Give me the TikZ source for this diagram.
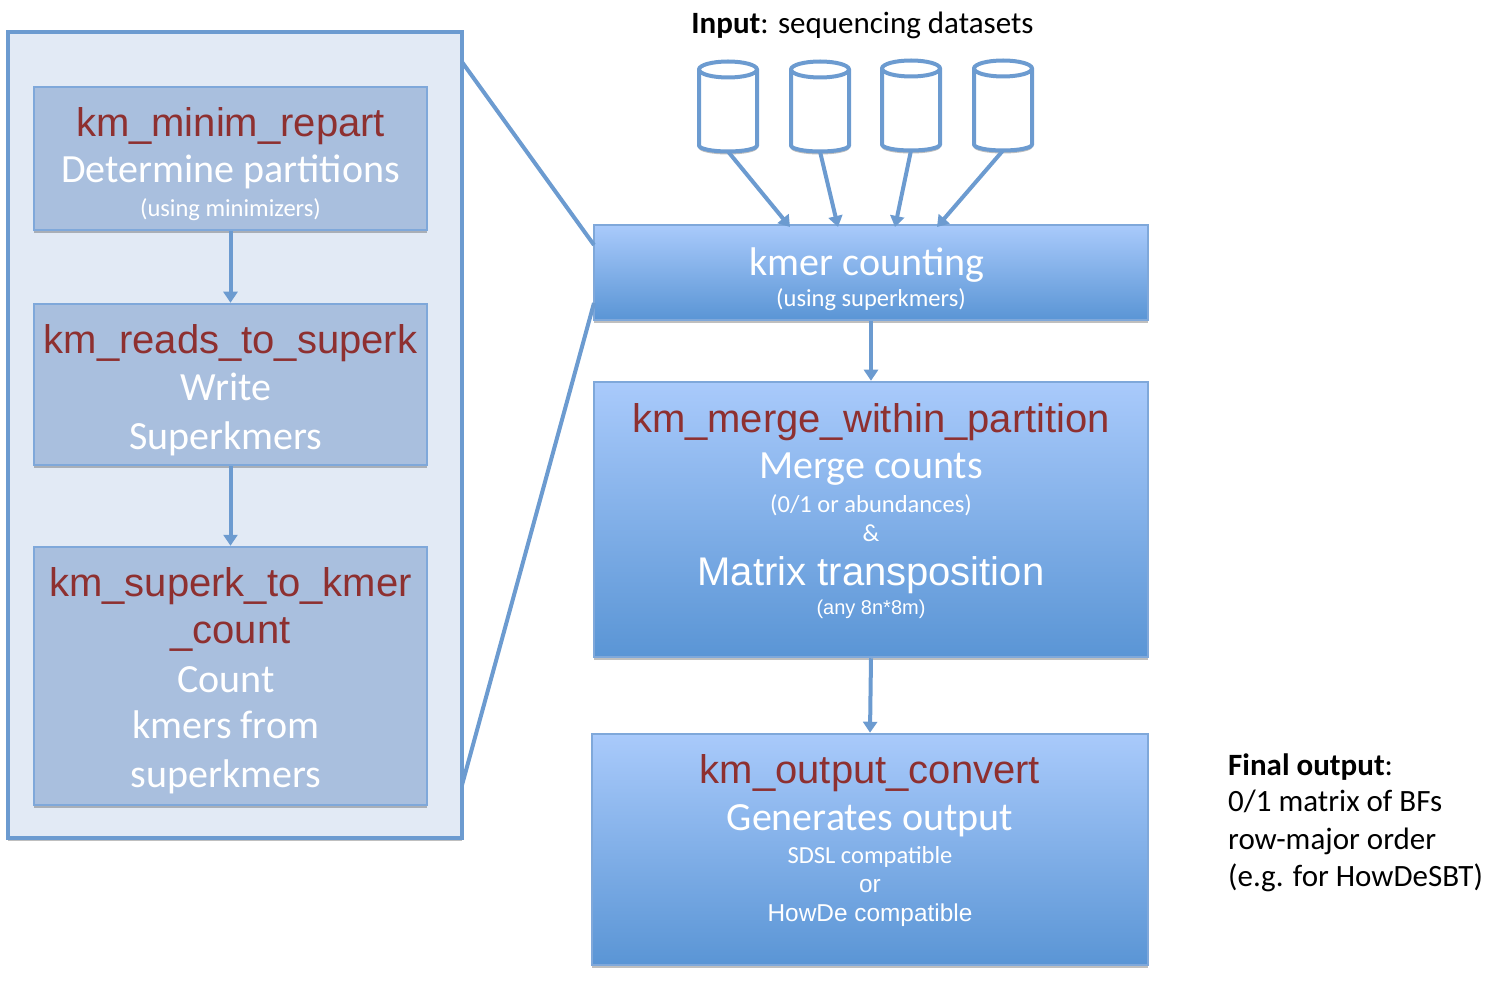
\documentclass[tikz,border=0pt]{standalone}
\usepackage{fontspec}
\setmainfont{Carlito}
\newfontfamily\arialfont{Liberation Sans}
\usetikzlibrary{arrows.meta,shadows}
\definecolor{linkblue}{HTML}{6C9BD0}
\definecolor{edgeblue}{HTML}{7FA8DA}
\definecolor{paneblue}{HTML}{E2EAF5}
\definecolor{flatblue}{HTML}{A9BFDE}
\definecolor{topblue}{HTML}{A9CAFB}
\definecolor{lowblue}{HTML}{5A95D5}
\definecolor{namered}{HTML}{8E3030}
\tikzset{
    softshadow/.style={drop shadow={shadow xshift=0pt,shadow yshift=-3pt,opacity=0.25,fill=black}},
    flatbox/.style={draw=edgeblue,line width=2.5pt,fill=flatblue,softshadow,inner sep=0pt},
    gradbox/.style={draw=edgeblue,line width=2.5pt,top color=topblue,bottom color=lowblue,softshadow,inner sep=0pt},
    link/.style={draw=linkblue,line width=4pt,-{Triangle[length=11pt,width=14pt]}},
    zoomline/.style={draw=linkblue,line width=4pt},
    dbase/.pic={
        \draw[draw=linkblue,line width=4pt,fill=white,softshadow] (-29,-37) -- (-29,39)
            arc[start angle=180,end angle=360,x radius=29pt,y radius=6pt] -- (29,-37)
            arc[start angle=0,end angle=180,x radius=29pt,y radius=8pt] -- cycle;
        \draw[draw=linkblue,line width=4pt] (-29,-37)
            arc[start angle=180,end angle=360,x radius=29pt,y radius=8pt];
        \coordinate (-base) at (0,45);
    },
    cname/.style={anchor=base,inner sep=0pt,text=namered,font=\arialfont\fontsize{40}{40}\selectfont},
    cmain/.style={anchor=base,inner sep=0pt,text=white,font=\fontsize{40}{40}\selectfont},
    csub/.style={anchor=base,inner sep=0pt,text=white,font=\fontsize{24.5}{25}\selectfont},
    carial/.style={anchor=base,inner sep=0pt,text=white,font=\arialfont\fontsize{24.4}{25}\selectfont},
    plain/.style={anchor=base,inner sep=0pt,text=black,font=\fontsize{31}{31}\selectfont}
}
\begin{document}
\begin{tikzpicture}[x=1pt,y=-1pt]
    \useasboundingbox (0,0) rectangle (1508,1000);
    % left panel
    \node[draw=linkblue,line width=4pt,fill=paneblue,softshadow,minimum width=454pt,minimum height=806pt,inner sep=0pt] (pane) at (235,435) {};
    \node[flatbox,minimum width=393pt,minimum height=143pt] (repart) at (230.5,158.5) {};
    \node[flatbox,minimum width=393pt,minimum height=161pt] (superk) at (230.5,384.5) {};
    \node[flatbox,minimum width=393pt,minimum height=258pt] (kcount) at (230.5,676) {};
    % main column
    \node[gradbox,minimum width=554pt,minimum height=95pt] (kmer) at (871,272.5) {};
    \node[gradbox,minimum width=554pt,minimum height=275pt] (merge) at (871,519.5) {};
    \node[gradbox,minimum width=556pt,minimum height=231pt] (output) at (870,849.5) {};
    % datasets
    \pic (dbA) at (728,106.5) {dbase};
    \pic (dbB) at (820,106.5) {dbase};
    \pic (dbC) at (911,105.5) {dbase};
    \pic (dbD) at (1003,105.5) {dbase};
    % texts
    \node[plain] (input) at (862.5,34) {\textbf{Input}: sequencing datasets};
    \node[cname] (repartname) at (230.5,137) {km\_minim\_repart};
    \node[cmain] (repartmain) at (230.5,183) {Determine partitions};
    \node[csub] (repartsub) at (230.5,217) {(using minimizers)};
    \node[cname] (superkname) at (230.5,354) {km\_reads\_to\_superk};
    \node[cmain] (superkmainA) at (226,400) {Write};
    \node[cmain] (superkmainB) at (226,449) {Superkmers};
    \node[cname] (kcountnameA) at (230.5,596) {km\_superk\_to\_kmer};
    \node[cname] (kcountnameB) at (230.5,643) {\_count};
    \node[cmain] (kcountmainA) at (226,692) {Count};
    \node[cmain] (kcountmainB) at (226,738) {kmers from};
    \node[cmain] (kcountmainC) at (226,787) {superkmers};
    \node[cmain] (kmermain) at (867,276) {kmer counting};
    \node[csub] (kmersub) at (871,307) {(using superkmers)};
    \node[cname] (mergename) at (871,432) {km\_merge\_within\_partition};
    \node[cmain] (mergemainA) at (871,478) {Merge counts};
    \node[csub] (mergesubA) at (871,512) {(0/1 or abundances)};
    \node[csub] (mergesubB) at (871,541) {\&};
    \node[cname,text=white] (mergemainB) at (871,585) {Matrix transposition};
    \node[carial,font=\arialfont\fontsize{20}{20}\selectfont] (mergesubC) at (871,614) {(any 8n*8m)};
    \node[cname] (outputname) at (870,783) {km\_output\_convert};
    \node[cmain] (outputmain) at (870,830) {Generates output};
    \node[csub] (outputsubA) at (870,863) {SDSL compatible};
    \node[carial] (outputsubB) at (870,892) {or};
    \node[carial] (outputsubC) at (870,921) {HowDe compatible};
    \node[plain,anchor=base west] (finalA) at (1228,775) {\textbf{Final output}:};
    \node[plain,anchor=base west] (finalB) at (1228,811) {0/1 matrix of BFs};
    \node[plain,anchor=base west] (finalC) at (1228,849) {row-major order};
    \node[plain,anchor=base west] (finalD) at (1228,886) {(e.g. for HowDeSBT)};
    % connectors
    \coordinate (inA) at (790,227);
    \coordinate (inB) at (838,227);
    \coordinate (inC) at (895,227);
    \coordinate (inD) at (937,227);
    \coordinate (zoomA) at (462,62);
    \coordinate (zoomB) at (462,785);
    \coordinate (kmerA) at (594,245);
    \coordinate (kmerB) at (594,303);
    \draw[zoomline] (zoomA) -- (kmerA);
    \draw[zoomline] (zoomB) -- (kmerB);
    \draw[link] (dbA-base) -- (inA);
    \draw[link] (dbB-base) -- (inB);
    \draw[link] (dbC-base) -- (inC);
    \draw[link] (dbD-base) -- (inD);
    \draw[link] (repart.south) -- (superk.north);
    \draw[link] (superk.south) -- (kcount.north);
    \draw[link] (kmer.south) -- (merge.north);
    \draw[link] (merge.south) -- (output.north);
\end{tikzpicture}
\end{document}
